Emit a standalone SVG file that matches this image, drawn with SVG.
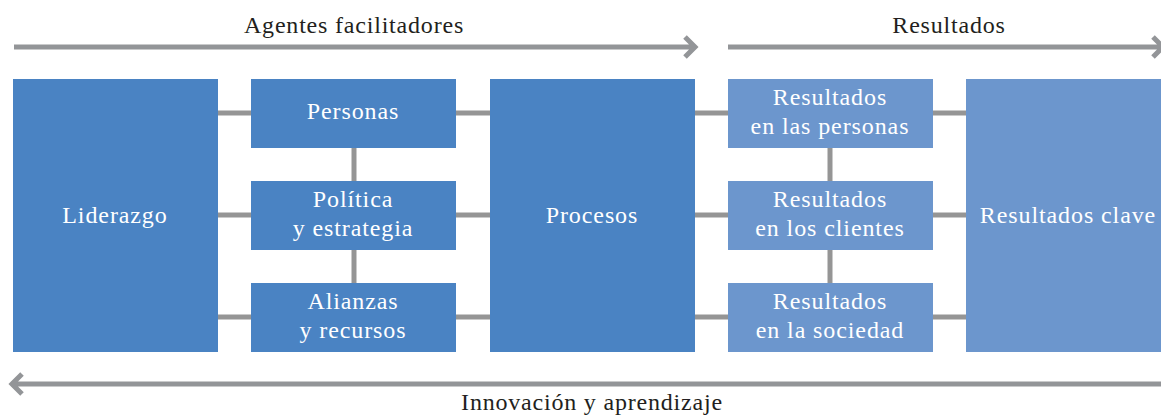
<svg xmlns="http://www.w3.org/2000/svg" width="1161" height="415" viewBox="0 0 1161 415">
<style>
.a{fill:#4a83c3}
.r{fill:#6c96cd}
.t{font-family:"Liberation Serif",serif;font-size:24px;letter-spacing:0.9px;fill:#fff;text-anchor:middle}
.h{font-family:"Liberation Serif",serif;font-size:24px;letter-spacing:0.8px;fill:#231f20;text-anchor:middle}
.c{stroke:#959595;stroke-width:5;fill:none}
.ar{stroke:#939598;stroke-width:5;fill:none}
</style>
<g id="arrows">
<path class="ar" d="M14 47H695M685 37L695 47L685 57"/>
<path class="ar" d="M728 47H1161M1153 37L1163 47L1153 57"/>
<path class="ar" d="M12 384H1161M22 374L12 384L22 394"/>
</g>
<g id="connectors">
<path class="c" d="M218 113H251M218 215H251M218 317H251M456 113H490M456 215H490M456 317H490M695 113H728M695 215H728M695 317H728M933 113H966M933 215H966M933 317H966M354 148V181M354 250V283M830 148V181M830 250V283"/>
</g>
<text class="h" x="354" y="33">Agentes facilitadores</text>
<text class="h" x="949" y="33">Resultados</text>
<text class="h" x="592" y="410">Innovación y aprendizaje</text>
<g id="liderazgo"><rect class="a" x="13" y="79" width="205" height="273"/><text class="t" x="115" y="223">Liderazgo</text></g>
<g id="personas"><rect class="a" x="251" y="79" width="205" height="69"/><text class="t" x="353" y="119">Personas</text></g>
<g id="politica"><rect class="a" x="251" y="181" width="205" height="69"/><text class="t" x="353" y="207">Política</text><text class="t" x="353" y="236">y estrategia</text></g>
<g id="alianzas"><rect class="a" x="251" y="283" width="205" height="69"/><text class="t" x="353" y="309">Alianzas</text><text class="t" x="353" y="338">y recursos</text></g>
<g id="procesos"><rect class="a" x="490" y="79" width="205" height="273"/><text class="t" x="592" y="223">Procesos</text></g>
<g id="res-personas"><rect class="r" x="728" y="79" width="205" height="69"/><text class="t" x="830" y="105">Resultados</text><text class="t" x="830" y="134">en las personas</text></g>
<g id="res-clientes"><rect class="r" x="728" y="181" width="205" height="69"/><text class="t" x="830" y="207">Resultados</text><text class="t" x="830" y="236">en los clientes</text></g>
<g id="res-sociedad"><rect class="r" x="728" y="283" width="205" height="69"/><text class="t" x="830" y="309">Resultados</text><text class="t" x="830" y="338">en la sociedad</text></g>
<g id="res-clave"><rect class="r" x="966" y="79" width="205" height="273"/><text class="t" x="1068" y="223">Resultados clave</text></g>
</svg>
